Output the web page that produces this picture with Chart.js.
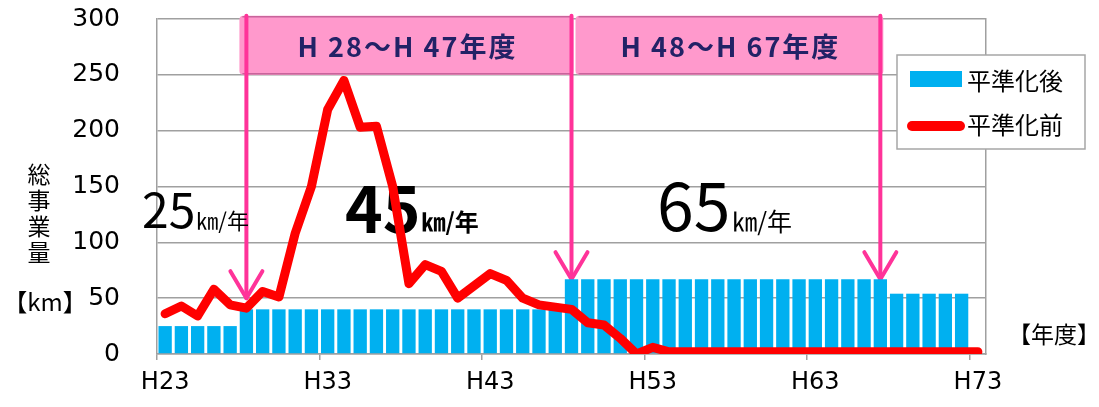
<!DOCTYPE html>
<html lang="ja">
<head>
    <meta charset="UTF-8">
    <title>総事業量</title>
    <style>
        body {
            margin: 0;
            background: #ffffff;
        }
        #wrap {
            width: 1099px;
            height: 407px;
        }
    </style>
</head>
<body>
    <div id="wrap">
        <canvas id="chart" width="1099" height="407"></canvas>
    </div>
    <script src="https://cdn.jsdelivr.net/npm/chart.js@4.4.1/dist/chart.umd.min.js"></script>
    <script>
        // 年度 (H23 - H73)
        const years = [];
        for (let y = 23; y <= 73; y++) years.push('H' + y);

        // 平準化後 (棒)
        const afterLevel = [
            25, 25, 25, 25, 25,
            40, 40, 40, 40, 40, 40, 40, 40, 40, 40,
            40, 40, 40, 40, 40, 40, 40, 40, 40, 40,
            67, 67, 67, 67, 67, 67, 67, 67, 67, 67,
            67, 67, 67, 67, 67, 67, 67, 67, 67, 67,
            54, 54, 54, 54, 54,
            null
        ];

        // 平準化前 (折れ線)
        const beforeLevel = [
            36, 43, 34, 58, 44, 41, 56, 51, 108, 150,
            219, 245, 203, 204, 150, 63, 80, 74, 50, 61,
            72, 66, 50, 44, 42, 40, 28, 26, 14, 0,
            6, 2, 2, 2, 2, 2, 2, 2, 2, 2,
            2, 2, 2, 2, 2, 2, 2, 2, 2, 2,
            2
        ];

        const yTicks = [0, 50, 100, 150, 200, 250, 300];

        // 期間と矢印
        const periods = ['H 28～H 47年度', 'H 48～H 67年度'];
        const arrowYears = ['H28', 'H48', 'H67'];
        const arrowTips = [50, 67, 67];

        const BLUE = '#00B0F0';
        const RED = '#FF0000';
        const PINK = '#FF3399';
        const GRID = '#A0A0A0';
        const JP = '"Noto Sans CJK JP", "DejaVu Sans", sans-serif';
        const NUM = '"DejaVu Sans", Verdana, sans-serif';

        function arrow(ctx, x, y0, y1) {
            ctx.save();
            ctx.strokeStyle = PINK;
            ctx.lineWidth = 4;
            ctx.lineCap = 'round';
            ctx.lineJoin = 'round';
            ctx.beginPath();
            ctx.moveTo(x, y0);
            ctx.lineTo(x, y1);
            ctx.stroke();
            ctx.beginPath();
            ctx.moveTo(x - 16, y1 - 27);
            ctx.lineTo(x, y1);
            ctx.lineTo(x + 16, y1 - 27);
            ctx.stroke();
            ctx.restore();
        }

        const decor = {
            id: 'decor',
            beforeDatasetsDraw(chart) {
                const ctx = chart.ctx;
                const xs = chart.scales.x;
                const ys = chart.scales.y;
                const ax = arrowYears.map(a => xs.getPixelForValue(years.indexOf(a)));
                const top = ys.getPixelForValue(303);
                const bot = ys.getPixelForValue(250);

                // pink boxes
                const spans = [[ax[0] - 7, ax[1] + 2], [ax[1] + 4, ax[2] + 3]];
                spans.forEach((s, i) => {
                    ctx.save();
                    ctx.fillStyle = '#FF99CC';
                    ctx.beginPath();
                    ctx.roundRect(s[0], top, s[1] - s[0], bot - top, 4);
                    ctx.fill();
                    ctx.strokeStyle = '#C8649B';
                    ctx.lineWidth = 1.5;
                    ctx.beginPath();
                    ctx.moveTo(s[0] + 3, top + 1);
                    ctx.lineTo(s[1] - 3, top + 1);
                    ctx.moveTo(s[0] + 3, bot - 1);
                    ctx.lineTo(s[1] - 3, bot - 1);
                    ctx.stroke();
                    ctx.fillStyle = '#222266';
                    ctx.font = 'bold 27px ' + JP;
                    ctx.letterSpacing = '2px';
                    ctx.textAlign = 'center';
                    ctx.textBaseline = 'middle';
                    ctx.fillText(periods[i], (s[0] + s[1]) / 2 + 1, (top + bot) / 2 + 1);
                    ctx.restore();
                });

                // arrows
                ax.forEach((x, i) => arrow(ctx, x, top, ys.getPixelForValue(arrowTips[i])));

                // rate texts
                ctx.save();
                ctx.fillStyle = '#000';
                ctx.textBaseline = 'alphabetic';
                ctx.textAlign = 'left';
                ctx.font = '48px ' + JP;
                ctx.fillText('25', 142, 228);
                let w = ctx.measureText('25').width;
                ctx.font = '22px ' + JP;
                ctx.fillText('㎞/年', 142 + w + 1, 229);

                ctx.font = 'bold 64px ' + JP;
                ctx.fillText('45', 345, 233);
                w = ctx.measureText('45').width;
                ctx.font = 'bold 24px ' + JP;
                ctx.fillText('㎞/年', 345 + w + 1, 231);

                ctx.font = '66px ' + JP;
                ctx.fillText('65', 657, 231);
                w = ctx.measureText('65').width;
                ctx.font = '25px ' + JP;
                ctx.fillText('㎞/年', 657 + w + 2, 231);
                ctx.restore();
            },
            afterDraw(chart) {
                const ctx = chart.ctx;
                ctx.save();
                // axis title
                ctx.fillStyle = '#000';
                ctx.font = '23px ' + JP;
                ctx.textAlign = 'center';
                ctx.textBaseline = 'middle';
                ['総', '事', '業', '量'].forEach((c, i) => ctx.fillText(c, 39, 174 + i * 26));
                ctx.font = '24px ' + JP;
                ctx.fillText('【km】', 45, 302);
                ctx.font = '23px ' + JP;
                ctx.fillText('【年度】', 1054, 334);

                // legend
                ctx.fillStyle = '#fff';
                ctx.fillRect(897, 55, 188, 94);
                ctx.strokeStyle = '#A6A6A6';
                ctx.lineWidth = 1.5;
                ctx.strokeRect(897, 55, 188, 94);
                ctx.fillStyle = BLUE;
                ctx.fillRect(910, 71, 52, 16);
                ctx.strokeStyle = RED;
                ctx.lineWidth = 10;
                ctx.lineCap = 'round';
                ctx.beginPath();
                ctx.moveTo(912, 126);
                ctx.lineTo(960, 126);
                ctx.stroke();
                ctx.fillStyle = '#000';
                ctx.font = '24px ' + JP;
                ctx.textAlign = 'left';
                ctx.fillText('平準化後', 967, 81);
                ctx.fillText('平準化前', 967, 125);
                ctx.restore();
            }
        };

        new Chart(document.getElementById('chart'), {
            type: 'bar',
            data: {
                labels: years,
                datasets: [
                    {
                        type: 'line',
                        label: '平準化前',
                        data: beforeLevel,
                        borderColor: RED,
                        backgroundColor: RED,
                        borderWidth: 9,
                        borderCapStyle: 'round',
                        borderJoinStyle: 'round',
                        pointRadius: 0,
                        tension: 0,
                        order: 0
                    },
                    {
                        type: 'bar',
                        label: '平準化後',
                        data: afterLevel,
                        backgroundColor: BLUE,
                        barPercentage: 0.82,
                        categoryPercentage: 1,
                        order: 1
                    }
                ]
            },
            options: {
                responsive: false,
                animation: false,
                events: [],
                layout: { padding: { top: 19, left: 0, right: 0, bottom: 0 } },
                plugins: {
                    legend: { display: false },
                    tooltip: { enabled: false }
                },
                scales: {
                    x: {
                        offset: true,
                        afterFit: s => { s.height = 53; },
                        grid: {
                            offset: true,
                            drawOnChartArea: false,
                            tickLength: 6,
                            lineWidth: 1.5,
                            color: c => (c.index % 10 === 0 ? GRID : 'rgba(0,0,0,0)')
                        },
                        border: { display: true, color: GRID, width: 1.5 },
                        ticks: {
                            autoSkip: false,
                            maxRotation: 0,
                            padding: 8,
                            color: '#000',
                            font: { family: NUM, size: 24 },
                            callback: (v, i) => (i % 10 === 0 ? years[i] : '')
                        }
                    },
                    y: {
                        min: 0,
                        max: 300,
                        afterFit: s => { s.width = 157; },
                        afterBuildTicks: s => { s.ticks = yTicks.map(v => ({ value: v })); },
                        grid: {
                            color: GRID,
                            lineWidth: 1.5,
                            drawTicks: true,
                            tickLength: 36,
                            tickColor: 'rgba(0,0,0,0)'
                        },
                        border: { display: true, color: GRID, width: 1.5 },
                        ticks: {
                            padding: 1,
                            color: '#000',
                            font: { family: NUM, size: 25 }
                        }
                    },
                    y2: {
                        position: 'right',
                        min: 0,
                        max: 300,
                        afterFit: s => { s.width = 113; },
                        grid: { display: false, drawTicks: false },
                        border: { display: true, color: GRID, width: 1.5 },
                        ticks: { display: false }
                    }
                }
            },
            plugins: [decor]
        });
    </script>
</body>
</html>
